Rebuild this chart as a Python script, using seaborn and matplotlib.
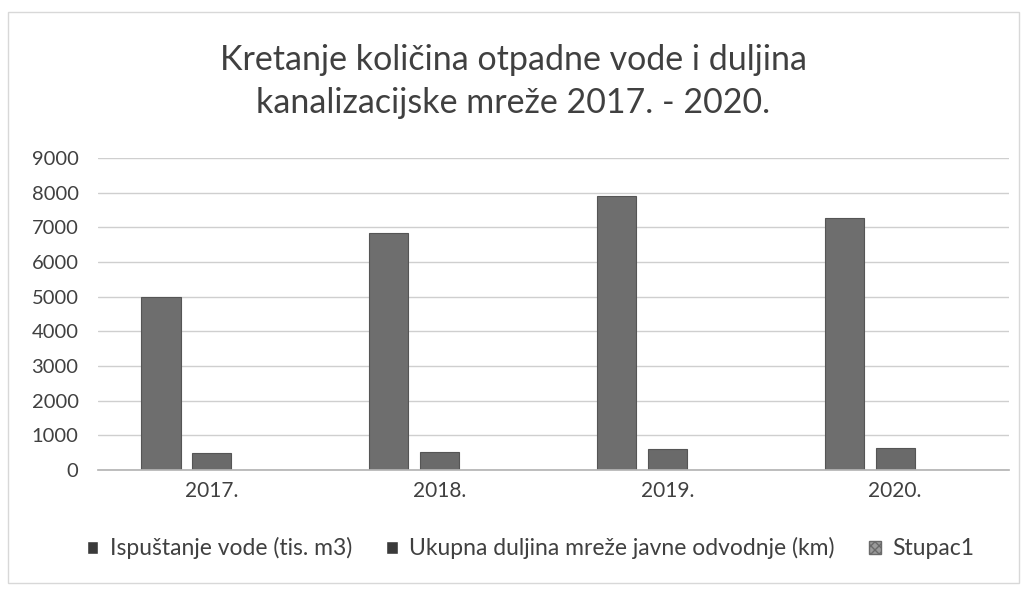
import pandas as pd
import matplotlib.pyplot as plt
import seaborn as sns
from matplotlib.patches import Patch, Rectangle

# data
years = ['2017.', '2018.', '2019.', '2020.']
ispustanje = [5000, 6820, 7900, 7270]
duljina = [490, 520, 600, 630]
stupac1 = [0, 0, 0, 0]
series = ['Ispuštanje vode (tis. m3)', 'Ukupna duljina mreže javne odvodnje (km)', 'Stupac1']

sns.set_theme(style="white")
plt.rcParams['font.family'] = ['Lato', 'DejaVu Sans']

df = pd.DataFrame({
    'year': years * 3,
    'value': ispustanje + duljina + stupac1,
    'series': [series[0]] * 4 + [series[1]] * 4 + [series[2]] * 4,
})

colors = ['#6e6e6e', '#6a6a6a', '#a8a8a8']
text_col = '#404040'

fig = plt.figure(figsize=(10.26, 5.89), dpi=100)
ax = fig.add_axes([0.0955, 0.202, 0.888, 0.530])

sns.barplot(data=df, x='year', y='value', hue='series', palette=colors,
            width=0.67, gap=0.23, legend=False, ax=ax,
            edgecolor='#555555', linewidth=0.8)

ax.set_ylim(0, 9000)
ax.set_yticks(range(0, 9001, 1000))
ax.set_xlim(-0.5, 3.5)
ax.yaxis.grid(True, color='#cfcfcf', linewidth=1)
ax.set_axisbelow(True)
for s in ['left', 'right', 'top']:
    ax.spines[s].set_visible(False)
ax.spines['bottom'].set_color('#b5b5b5')
ax.set_xlabel('')
ax.set_ylabel('')
ax.tick_params(axis='y', length=0, labelsize=14.5, labelcolor=text_col, pad=14)
ax.tick_params(axis='x', length=0, labelsize=15, labelcolor=text_col, pad=8)

fig.suptitle('Kretanje količina otpadne vode i duljina\nkanalizacijske mreže 2017. - 2020.',
             y=0.925, fontsize=24.5, color=text_col, linespacing=1.4)

handles = [Patch(facecolor='#3a3a3a'), Patch(facecolor='#3a3a3a'),
           Patch(facecolor='#9a9a9a', hatch='xxxx', edgecolor='#6a6a6a')]
fig.legend(handles, series, loc='center', bbox_to_anchor=(0.517, 0.069), ncol=3,
           frameon=False, fontsize=16.5, handlelength=0.5, handleheight=0.5,
           columnspacing=1.5, handletextpad=0.5, labelcolor=text_col)

# light frame around the chart
fig.patches.append(Rectangle((0.008, 0.01), 0.985, 0.97, transform=fig.transFigure,
                             fill=False, edgecolor='#d8d8d8', linewidth=1))

fig.savefig('out.png', dpi=100)
